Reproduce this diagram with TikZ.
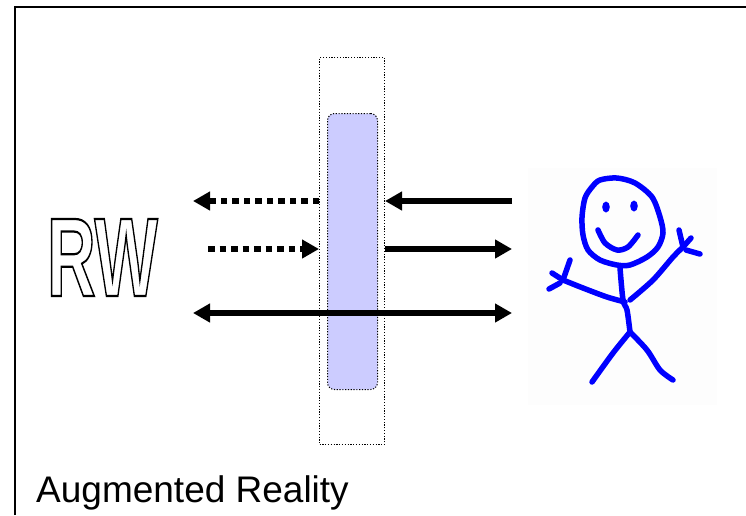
\documentclass[tikz,border=0pt]{standalone}
\usepackage{fontspec}
\setmainfont{Liberation Sans}
\usetikzlibrary{arrows.meta}

\definecolor{lcdblue}{HTML}{CCCCFF}

% hollow letters: stroke the glyph outlines only
\newcommand{\hollow}[1]{\special{pdf:literal direct 1 Tr 2.2 w}#1\special{pdf:literal direct 0 Tr}}

\tikzset{
  ray/.style={line width=5.5pt},
  ghostray/.style={ray, dash pattern=on 6.5pt off 5pt},
  dotframe/.style={draw, line width=1pt, dash pattern=on 1.2pt off 1.6pt},
  stick/.style={color=blue, line width=5.5pt, line cap=round, line join=round}
}

\begin{document}
\begin{tikzpicture}[x=1pt,y=-1pt,>={Triangle[length=17pt,width=18pt]}]

\useasboundingbox (0,0) rectangle (746,515);

\draw[line width=2pt] (15,515) -- (15,7) -- (746,7);

% see-through screen and the display on it
\node[dotframe, minimum width=65pt, minimum height=387pt, inner sep=0pt, anchor=north west] (screen) at (319,57) {};

\node[dotframe, fill=lcdblue, rounded corners=7pt, minimum width=50pt, minimum height=276pt, inner sep=0pt, anchor=north west] (glass) at (327,113) {};

\node[inner sep=0pt, font=\fontsize{112}{112}\selectfont\bfseries] (rw) at (102.5,257.5) {\scalebox{0.6}[1]{\hollow{RW}}};

\coordinate (rw top) at (193,201);
\coordinate (eye top) at (512,201);
\coordinate (rw mid) at (208,249);
\coordinate (eye mid) at (512,249);
\coordinate (rw low) at (193,313);
\coordinate (eye low) at (512,313);

\draw[ghostray,->] (screen.west |- rw top) -- (rw top);

\draw[ray,->] (eye top) -- (screen.east |- eye top);

\draw[ghostray,->] (rw mid) -- (screen.west |- rw mid);

\draw[ray,->] (screen.east |- eye mid) -- (eye mid);

\draw[ray,<->] (rw low) -- (eye low);

% the user
\fill[black!0.6] (528,168) rectangle (717,405);

\draw[stick] plot[smooth cycle] coordinates {(600,180) (617,178) (635,183) (652,197) (660,217) (663,233) (658,247) (647,257) (630,265) (617,265) (600,260) (588,250) (583,235) (582,217) (585,198) (592,187)};

\fill[blue] (606,207) ellipse [x radius=3.8pt, y radius=5.5pt];

\fill[blue] (634,206) ellipse [x radius=3.8pt, y radius=5.5pt];

\draw[stick] plot[smooth] coordinates {(598,230) (605,243) (617,250) (628,247) (638,235)};

\draw[stick] plot[smooth] coordinates {(620,268) (623,300) (627,310) (630,332)};

\draw[stick] plot[smooth] coordinates {(630,332) (613,353) (592,382)};

\draw[stick] plot[smooth] coordinates {(630,332) (647,350) (660,370) (673,380)};

\draw[stick] plot[smooth] coordinates {(625,302) (607,297) (583,288) (563,280)};

\draw[stick] (563,280) -- (570,260);

\draw[stick] (563,280) -- (552,273);

\draw[stick] (560,283) -- (549,289);

\draw[stick] plot[smooth] coordinates {(630,300) (653,280) (673,257) (683,247)};

\draw[stick] (683,247) -- (679,230);

\draw[stick] (683,247) -- (691,238);

\draw[stick] (686,250) -- (700,254);

\node[anchor=base west, inner sep=0pt, font=\fontsize{37}{40}\selectfont] (title) at (36,502) {Augmented Reality};

\end{tikzpicture}
\end{document}
